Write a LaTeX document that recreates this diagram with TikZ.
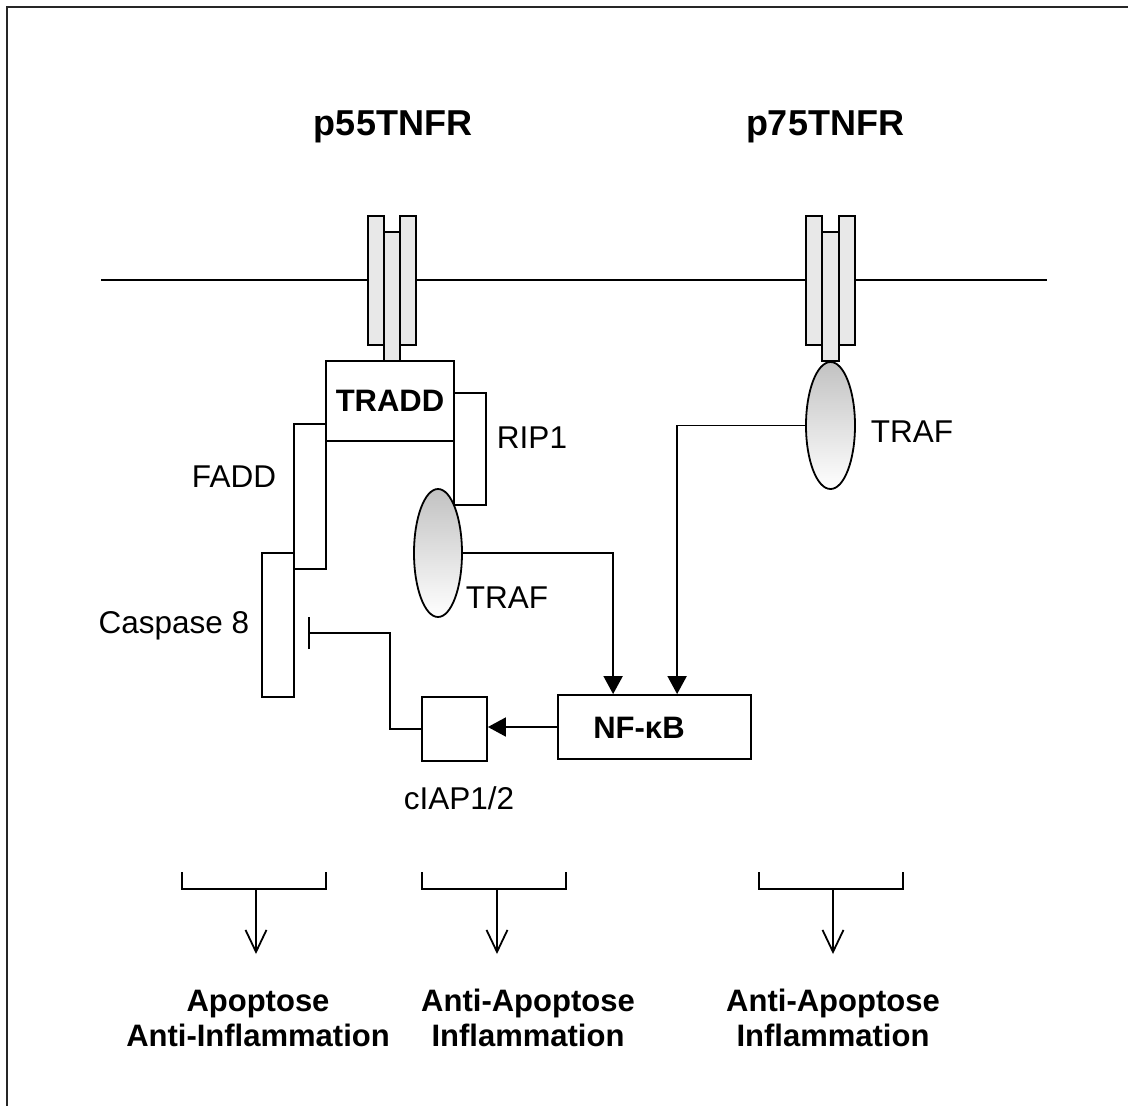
\documentclass[tikz,border=0pt]{standalone}
\usepackage{fontspec}
\setmainfont{Liberation Sans}
\usetikzlibrary{arrows.meta,shapes.geometric,calc}
\tikzset{
  ln/.style={line width=1.8pt},
  box/.style={draw,ln,rectangle,inner sep=0pt,fill=white},
  rbar/.style={draw,ln,fill=black!9},
  trafshape/.style={draw,ln,ellipse,inner sep=0pt,top color=black!24,bottom color=white},
  lbl/.style={anchor=base,inner sep=0pt,font=\fontsize{31.5}{36}\selectfont},
  blbl/.style={anchor=base,inner sep=0pt,font=\fontsize{31}{36}\selectfont\bfseries},
  ttl/.style={anchor=base,inner sep=0pt,font=\fontsize{36}{40}\selectfont\bfseries},
  act/.style={ln,-{Triangle[width=19pt,length=18pt]}},
  inh/.style={ln,-{Bar[width=32pt,line width=1.8pt]}},
  outc/.style={ln,-{Straight Barb[width=21pt,length=22pt,line width=1.8pt]}}
}
\begin{document}
\begin{tikzpicture}[x=1pt,y=-1pt]
\useasboundingbox (0,0) rectangle (1128,1106);
% frame
\draw[line width=2pt,black!85] (7,1106) -- (7,7) -- (1128,7);
% titles
\node[ttl] (t55) at (393,135) {p55TNFR};
\node[ttl] (t75) at (825,135) {p75TNFR};
% membrane
\draw[ln] (101,280) -- (1047,280);
% receptors
\draw[rbar] (368,216) rectangle (384,345);
\draw[rbar] (400,216) rectangle (416,345);
\draw[rbar] (384,232) rectangle (400,361);
\draw[rbar] (806,216) rectangle (822,345);
\draw[rbar] (839,216) rectangle (855,345);
\draw[rbar] (822,232) rectangle (839,361);
% boxes
\node[box,minimum width=32pt,minimum height=112pt] (rip) at (470,449) {};
\node[box,minimum width=32pt,minimum height=145pt] (fadd) at (310,496.5) {};
\node[box,minimum width=32pt,minimum height=144pt] (casp) at (278,625) {};
\node[box,minimum width=128pt,minimum height=80pt,font=\fontsize{31}{36}\selectfont\bfseries] (tradd) at (390,401) {TRADD};
\node[trafshape,minimum width=48pt,minimum height=128pt] (traf1) at (438,553) {};
\node[trafshape,minimum width=49pt,minimum height=127pt] (traf2) at (830.5,425.5) {};
\node[box,minimum width=193pt,minimum height=64pt] (nfkb) at (654.5,727) {};
\node[blbl] (nfkbt) at (639,738) {NF-κB};
\node[box,minimum width=65pt,minimum height=64pt] (ciap) at (454.5,729) {};
% labels
\node[lbl] (lrip) at (532,448) {RIP1};
\node[lbl] (lfadd) at (234,487) {FADD};
\node[lbl] (lcasp) at (174,633) {Caspase 8};
\node[lbl] (ltraf1) at (507,608) {TRAF};
\node[lbl] (ltraf2) at (912,442) {TRAF};
\node[lbl] (lciap) at (459,809) {cIAP1/2};
% connectors
\coordinate (n1) at ($(nfkb.north west)+(56,0)$);
\coordinate (n2) at ($(nfkb.north west)+(120,0)$);
\draw[act] (traf1.east) -| (n1);
\draw[act] (traf2.west) -| (n2);
\draw[act] (nfkb.west) -- (nfkb.west -| ciap.east);
\coordinate (bend) at (390,633);
\coordinate (blk) at (308,633);
\draw[inh] (ciap.west) -| (bend) -- (blk);
% outcome brackets
\coordinate (o1) at (256,889);
\coordinate (e1) at (256,954);
\coordinate (o2) at (497,889);
\coordinate (e2) at (497,954);
\coordinate (o3) at (833,889);
\coordinate (e3) at (833,954);
\draw[ln] (182,872) -- (182,889) -- (326,889) -- (326,872);
\draw[ln] (422,872) -- (422,889) -- (566,889) -- (566,872);
\draw[ln] (759,872) -- (759,889) -- (903,889) -- (903,872);
\draw[outc] (o1) -- (e1);
\draw[outc] (o2) -- (e2);
\draw[outc] (o3) -- (e3);
% outcome labels
\node[blbl] (a1) at (258,1011) {Apoptose};
\node[blbl] (a2) at (258,1046) {Anti-Inflammation};
\node[blbl] (b1) at (528,1011) {Anti-Apoptose};
\node[blbl] (b2) at (528,1046) {Inflammation};
\node[blbl] (c1) at (833,1011) {Anti-Apoptose};
\node[blbl] (c2) at (833,1046) {Inflammation};
\end{tikzpicture}
\end{document}
